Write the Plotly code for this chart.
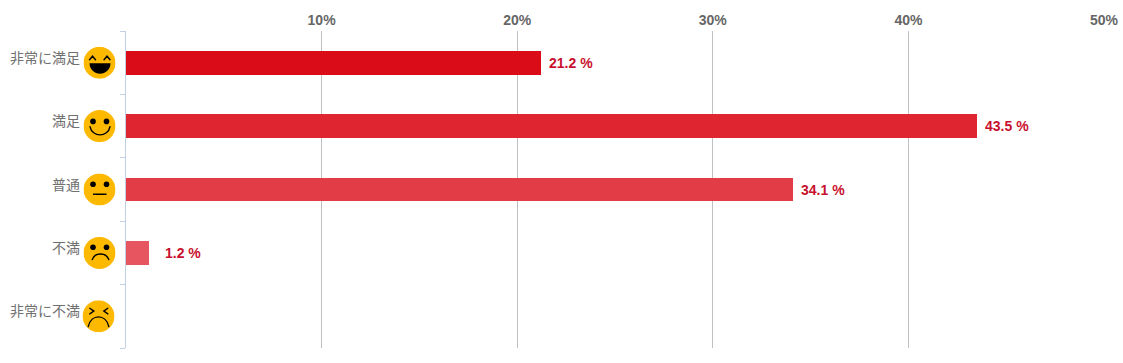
import base64
import plotly.graph_objects as go

categories = ["非常に満足", "満足", "普通", "不満", "非常に不満"]
values = [21.2, 43.5, 34.1, 1.2, 0]
value_labels = ["21.2 %", "43.5 %", "34.1 %", "1.2 %", None]
x_ticks = [10, 20, 30, 40, 50]
x_tick_labels = ["10%", "20%", "30%", "40%", "50%"]
bar_colors = ["#d90c17", "#de2530", "#e23c46", "#e65560", "#e96e76"]
label_shifts = [8, 8, 8, 16, 8]

EYES = '<circle cx="9.5" cy="{y}" r="2.8"/><circle cx="23" cy="{y}" r="2.8"/>'
ST = 'fill="none" stroke="#000" stroke-width="1.4" stroke-linecap="round"'
face_parts = [
    f'<path d="M6 13l3-3.5 3 3.5M20.5 13l3-3.5 3 3.5" {ST}/>'
    '<path d="M6 16.5h21c0 6-5 10.5-10.5 10.5S6 22.5 6 16.5z" fill="#000"/>',
    EYES.format(y=11.3) + f'<path d="M6.5 16.5c2 11 18 11 20 0" {ST}/>',
    EYES.format(y=10.7) + '<path d="M9.5 20.7h13.5" stroke="#000" stroke-width="1.4"/>',
    EYES.format(y=10.3) + f'<path d="M8.7 22.7c2.5-7.5 14-7.5 16.6 0" {ST}/>',
    f'<path d="M7.3 8l4 2.8-4 2.8M25.3 8l-4 2.8 4 2.8" {ST}/><path d="M5.7 26.3c3-13 17.6-13 20.6 0" {ST}/>',
]

def face_uri(parts):
    svg = ('<svg xmlns="http://www.w3.org/2000/svg" width="32" height="32" viewBox="0 0 32 32">'
           '<circle cx="16" cy="16" r="16" fill="#fdb900"/>' + parts + '</svg>')
    return "data:image/svg+xml;base64," + base64.b64encode(svg.encode()).decode()

L, R, T, B = 125.5, 19, 31, 15
W, H = 1123, 363
pw, ph = W - L - R, H - T - B
pos = list(range(len(categories)))

fig = go.Figure(go.Bar(
    x=values, y=pos, orientation="h", width=0.378,
    marker=dict(color=bar_colors, line_width=0), hoverinfo="skip",
))

annotations, images = [], []
for i, (c, v, lab, s) in enumerate(zip(categories, values, value_labels, label_shifts)):
    annotations.append(dict(x=0, y=i, xref="x", yref="y", text=c, showarrow=False,
                            xanchor="right", xshift=-44, yshift=6,
                            font=dict(family="Noto Sans CJK JP", size=14, color="#707070")))
    if lab:
        annotations.append(dict(x=v, y=i, xref="x", yref="y", text=lab, showarrow=False,
                                xanchor="left", xshift=s - 2,
                                font=dict(family="Liberation Sans", size=14, color="#c8102e", weight="bold")))
    images.append(dict(source=face_uri(face_parts[i]), xref="paper", yref="y",
                       x=(99 - (1 if i == 4 else 0) - L) / pw, y=i, sizex=32 / pw, sizey=32 / ph * 5,
                       xanchor="center", yanchor="middle", sizing="stretch", layer="above"))

fig.update_layout(
    width=W, height=H, autosize=False,
    margin=dict(l=L, r=R, t=T, b=B, pad=0, autoexpand=False),
    paper_bgcolor="#ffffff", plot_bgcolor="#ffffff", showlegend=False,
    annotations=annotations, images=images,
    bargap=0,
    xaxis=dict(side="top", range=[0, 50], tickvals=x_ticks, ticktext=x_tick_labels,
               showgrid=True, gridcolor="#c0c0c0", gridwidth=1, zeroline=False, automargin=False,
               showline=False, ticks="", ticklabelstandoff=2,
               tickfont=dict(family="Liberation Sans", size=14, color="#666666", weight="bold")),
    yaxis=dict(range=[4.5, -0.5], tickmode="array", tickvals=[-0.5, 0.5, 1.5, 2.5, 3.5, 4.5],
               ticktext=[""] * 6, showgrid=False, zeroline=False, automargin=False,
               showline=True, linecolor="#c0d0e0", linewidth=1,
               ticks="outside", ticklen=5, tickcolor="#c0d0e0", tickwidth=1),
)

fig.write_html("out.html", config={"displayModeBar": False},
               post_script="document.body.style.margin='0';document.documentElement.style.overflow='hidden';")
